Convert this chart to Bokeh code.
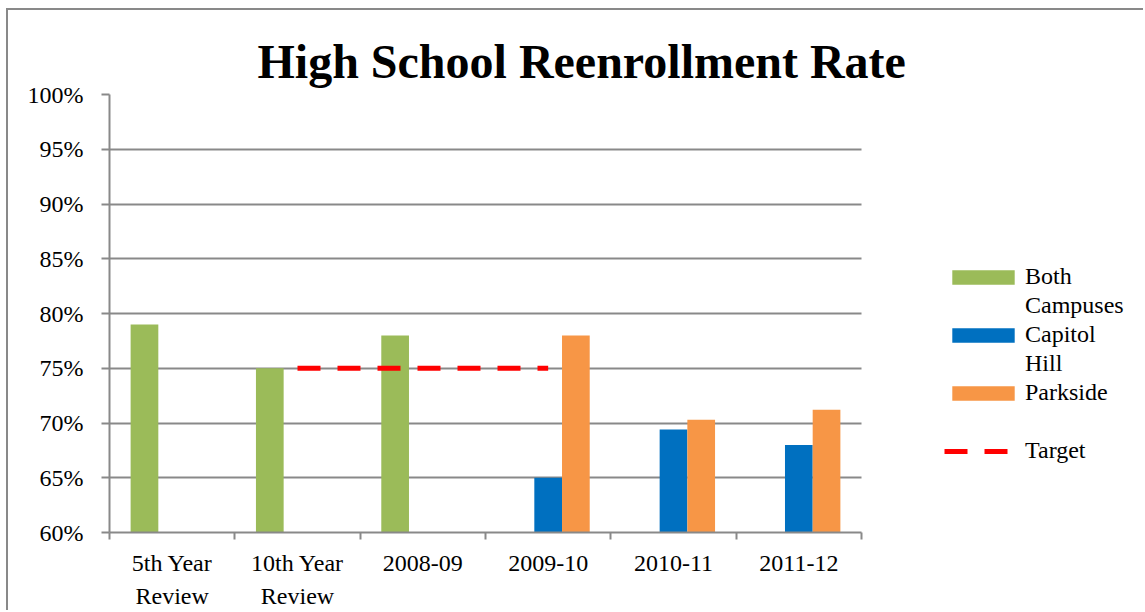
import numpy as np
from bokeh.plotting import figure
from bokeh.models import (Range1d, FixedTicker, PrintfTickFormatter, Legend,
                          LegendItem, ColumnDataSource)
from bokeh.embed import file_html
from bokeh.resources import INLINE

# ---- data ----
categories = ["5th Year\nReview", "10th Year\nReview", "2008-09", "2009-10", "2010-11", "2011-12"]
both_campuses = [79.0, 75.0, 78.0, None, None, None]
capitol_hill = [None, None, None, 65.0, 69.4, 68.0]
parkside = [None, None, None, 78.0, 70.3, 71.2]
target = [None, 75.0, 75.0, 75.0, None, None]
y_ticks = [60, 65, 70, 75, 80, 85, 90, 95, 100]

series_names = ["Both\nCampuses", "Capitol\nHill", "Parkside"]
series_values = [both_campuses, capitol_hill, parkside]
series_colors = ["#9BBB59", "#0070C0", "#F79646"]
target_name = "Target"

FONT = "Liberation Serif"
GRAY = "#898989"

W, H = 1137, 602
BORDER_LEFT = 101
PLOT_W = 752                     # width of the category area in px
FRAME_W = W - BORDER_LEFT        # frame reaches the right edge; legend lives inside it
n_cat = len(categories)
x_end = n_cat * FRAME_W / PLOT_W

bar_w = 0.221
offsets = [-bar_w, 0.0, bar_w]
centers = [i + 0.5 for i in range(n_cat)]
bounds = [float(i) for i in range(n_cat + 1)]

p = figure(width=W, height=H, x_range=Range1d(0, x_end),
           y_range=Range1d(60, 100), output_backend="svg", toolbar_location=None,
           min_border_left=BORDER_LEFT, min_border_right=0, min_border_top=84,
           min_border_bottom=80)
p.styles = {"margin-left": "6px", "margin-top": "8px",
            "border-left": f"2px solid {GRAY}", "border-top": f"2px solid {GRAY}"}
p.outline_line_color = None
p.background_fill_color = "white"
p.border_fill_color = "white"

# title
p.title.text = "High School Reenrollment Rate"
p.title.text_font = FONT
p.title.text_font_size = "48px"
p.title.text_font_style = "bold"
p.title.text_color = "black"
p.title.align = "left"
p.title.offset = 148
p.title.standoff = 14

renderers = []
for vals, col, off in zip(series_values, series_colors, offsets):
    xs = [c + off for c, v in zip(centers, vals) if v is not None]
    tops = [v for v in vals if v is not None]
    src = ColumnDataSource(dict(x=xs, top=tops))
    r = p.vbar(x="x", top="top", bottom=60, width=bar_w, source=src,
               fill_color=col, line_color=None)
    renderers.append(r)

tx = [c for c, v in zip(centers, target) if v is not None]
ty = [v for v in target if v is not None]
rt = p.line(tx, ty, line_color="#FF0000", line_width=5, line_dash="23 17",
            line_cap="butt")

# axes
p.xgrid.visible = False
p.ygrid.grid_line_color = GRAY
p.ygrid.grid_line_width = 2
p.ygrid.ticker = FixedTicker(ticks=y_ticks)
p.ygrid.cross_bounds = (0, n_cat)

yax = p.yaxis[0]
yax.ticker = FixedTicker(ticks=y_ticks, minor_ticks=[])
yax.formatter = PrintfTickFormatter(format="%d%%")
yax.axis_line_color = GRAY
yax.axis_line_width = 2
yax.major_tick_line_color = GRAY
yax.major_tick_line_width = 2
yax.major_tick_out = 8
yax.major_tick_in = 0
yax.minor_tick_line_color = None
yax.major_label_text_font = FONT
yax.major_label_text_font_size = "24px"
yax.major_label_text_color = "black"
yax.major_label_standoff = 18

xax = p.xaxis[0]
xax.bounds = (0, n_cat)
xax.ticker = FixedTicker(ticks=centers, minor_ticks=bounds)
xax.major_label_overrides = {c: lab for c, lab in zip(centers, categories)}
xax.axis_line_color = GRAY
xax.axis_line_width = 2
xax.major_tick_line_color = None
xax.minor_tick_line_color = GRAY
xax.minor_tick_line_width = 2
xax.minor_tick_out = 7
xax.minor_tick_in = 0
xax.major_label_text_font = FONT
xax.major_label_text_font_size = "24px"
xax.major_label_text_color = "black"
xax.major_label_text_line_height = 1.3
xax.major_label_standoff = 10

# legend: one row per text line; wrapped continuation lines carry no glyph
items = []
for name, r in zip(series_names, renderers):
    lines = name.split("\n") + ([" "] if "\n" not in name else [])
    items.append(LegendItem(label=lines[0], renderers=[r]))
    for extra in lines[1:]:
        items.append(LegendItem(label=extra, renderers=[]))
items.append(LegendItem(label=target_name, renderers=[rt]))

legend = Legend(items=items, location=(835, 67), margin=0, padding=0, spacing=0,
                glyph_width=78, glyph_height=18, label_standoff=3, label_height=29,
                border_line_color=None, background_fill_alpha=0,
                label_text_font=FONT, label_text_font_size="24px",
                label_text_color="black", label_text_line_height=1.2)
p.add_layout(legend, "center")

open("out.html", "w").write(file_html(p, INLINE))
